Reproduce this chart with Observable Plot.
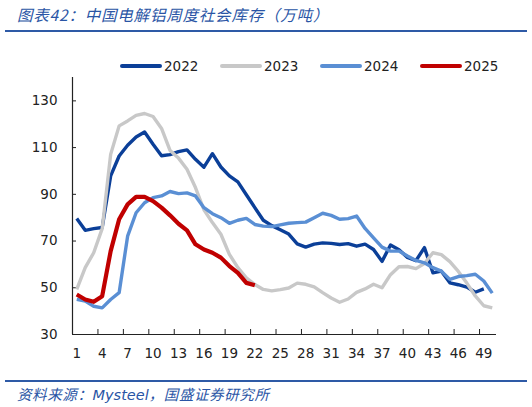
<!DOCTYPE html>
<html>
<head>
<meta charset="utf-8">
<script src="https://cdn.jsdelivr.net/npm/d3@7"></script>
<script src="https://cdn.jsdelivr.net/npm/@observablehq/plot@0.6"></script>
<style>
  html, body { margin: 0; padding: 0; background: #fff; }
  #root { position: relative; width: 532px; height: 407px; overflow: hidden; }
  .title { position: absolute; left: 17px; top: 4px; line-height: 20px; font-family: "Noto Sans CJK SC", sans-serif; font-style: italic; font-size: 15.5px; letter-spacing: 0.8px; color: #2a55a5; white-space: nowrap; }
  .rule { position: absolute; left: 5px; width: 522px; height: 2px; background: #2e5aa6; }
  .caption { position: absolute; left: 17px; top: 384px; line-height: 20px; font-family: "Noto Sans CJK SC", sans-serif; font-style: italic; font-size: 14.5px; letter-spacing: 0.6px; color: #2a55a5; white-space: nowrap; }
  .caption .latin { font-family: "DejaVu Sans", sans-serif; letter-spacing: 0; }
  .lg-line { position: absolute; top: 64px; height: 3.6px; border-radius: 2px; }
  .lg-text { position: absolute; top: 56px; line-height: 20px; font-family: "DejaVu Sans", sans-serif; font-size: 13.5px; color: #222; }
  #chart { position: absolute; left: 0; top: 60px; }
</style>
</head>
<body>
<div id="root">
  <div class="title">图表42：中国电解铝周度社会库存（万吨）</div>
  <div class="rule" style="top:30px"></div>
  <div id="legend"></div>
  <div id="chart"></div>
  <div class="rule" style="top:380px"></div>
  <div class="caption">资料来源：<span class="latin">Mysteel</span>，国盛证券研究所</div>
</div>
<script>
// ---- data ----
const years = ["2022", "2023", "2024", "2025"];
const colors = ["#0b3f98", "#c8c8c8", "#5a8fd4", "#c00000"];
const widths = [3.4, 3.4, 3.4, 4.2];

const y2022 = [79.6, 74.6, 75.3, 75.8, 97.9, 106.4, 111.0, 114.5, 116.7, 111.4,
  106.5, 107.0, 108.3, 109.0, 105.0, 101.6, 107.4, 101.7, 97.9, 95.3,
  89.8, 84.3, 78.9, 76.6, 74.8, 73.0, 68.8, 67.4, 68.7, 69.2,
  69.0, 68.5, 68.9, 67.8, 68.7, 66.4, 61.3, 68.3, 66.3, 63.0,
  61.6, 67.2, 56.4, 57.1, 52.1, 51.3, 50.3, 48.1, 49.5];
const y2023 = [49.3, 58.6, 65.0, 75.3, 107.1, 119.3, 121.4, 123.8, 124.6, 123.3,
  118.2, 108.8, 105.5, 100.7, 92.9, 83.4, 77.9, 72.9, 64.3, 58.6,
  54.3, 51.4, 49.3, 48.7, 49.2, 49.9, 52.0, 51.5, 50.4, 47.9,
  45.6, 43.8, 45.2, 48.0, 49.5, 51.5, 50.0, 55.6, 59.0, 59.1,
  58.2, 60.4, 65.0, 64.2, 61.2, 57.0, 52.0, 46.5, 42.3, 41.4];
const y2024 = [45.0, 44.3, 42.1, 41.4, 45.0, 47.9, 72.1, 82.1, 86.4, 88.6,
  89.3, 91.2, 90.3, 90.6, 89.3, 84.3, 81.7, 80.0, 77.6, 78.9,
  79.7, 77.1, 76.4, 76.2, 76.9, 77.6, 77.9, 78.1, 80.0, 81.9,
  81.0, 79.3, 79.6, 80.7, 75.4, 71.4, 67.4, 65.7, 65.7, 63.6,
  61.7, 60.7, 58.6, 57.1, 53.6, 54.8, 55.2, 55.8, 52.9, 47.7];
const y2025 = [47.1, 45.0, 44.0, 46.4, 65.7, 79.3, 85.7, 88.9, 88.9, 87.1,
  84.3, 81.0, 77.4, 74.6, 68.6, 66.4, 65.0, 62.9, 59.3, 56.4,
  52.1, 51.1];

const xTickLabels = [1, 4, 7, 10, 13, 16, 19, 22, 25, 28, 31, 34, 37, 40, 43, 46, 49];
const yTickLabels = [30, 50, 70, 90, 110, 130];

// ---- build table ----
const series = [y2022, y2023, y2024, y2025];
const rows = [];
series.forEach((vals, i) => vals.forEach((v, j) => rows.push({year: years[i], week: j + 1, value: v})));
const xBounds = xTickLabels.slice(1).map(d => d - 0.5);

// ---- legend ----
const legendLines = [120, 220, 320, 420];
const legend = document.getElementById("legend");
years.forEach((yr, i) => {
  const l = document.createElement("div");
  l.className = "lg-line";
  l.style.left = legendLines[i] + "px";
  l.style.width = "42px";
  l.style.background = colors[i];
  if (i === 3) { l.style.height = "4.4px"; l.style.top = "63.5px"; }
  legend.appendChild(l);
  const t = document.createElement("div");
  t.className = "lg-text";
  t.style.left = (legendLines[i] + 44) + "px";
  t.textContent = yr;
  legend.appendChild(t);
});

// ---- chart ----
const plot = Plot.plot({
  width: 532,
  height: 304,
  marginTop: 17,
  marginBottom: 30,
  marginLeft: 72,
  marginRight: 36,
  style: {fontFamily: "DejaVu Sans, sans-serif", fontSize: "13.5px", color: "#222", background: "transparent"},
  x: {domain: [0.5, 50.5], label: null},
  y: {domain: [30, 140], label: null},
  marks: [
    Plot.axisY({ticks: yTickLabels, tickSize: 0, tickPadding: 15, fill: "#222"}),
    Plot.axisX({ticks: xTickLabels, tickSize: 0, tickPadding: 14, fill: "#222"}),
    Plot.tickX(xBounds, {x: d => d, insetTop: 252, stroke: "#222", strokeWidth: 1}),
    Plot.tickY(yTickLabels, {y: d => d, insetRight: 420, stroke: "#222", strokeWidth: 1}),
    Plot.ruleY([30], {stroke: "#222", strokeWidth: 1.2}),
    Plot.ruleX([0.5], {stroke: "#222", strokeWidth: 1.2}),
    ...years.map((yr, i) => Plot.line(rows.filter(r => r.year === yr), {
      x: "week", y: "value", stroke: colors[i], strokeWidth: widths[i],
      strokeLinejoin: "round", strokeLinecap: "butt"
    }))
  ]
});
document.getElementById("chart").appendChild(plot);
</script>
</body>
</html>
